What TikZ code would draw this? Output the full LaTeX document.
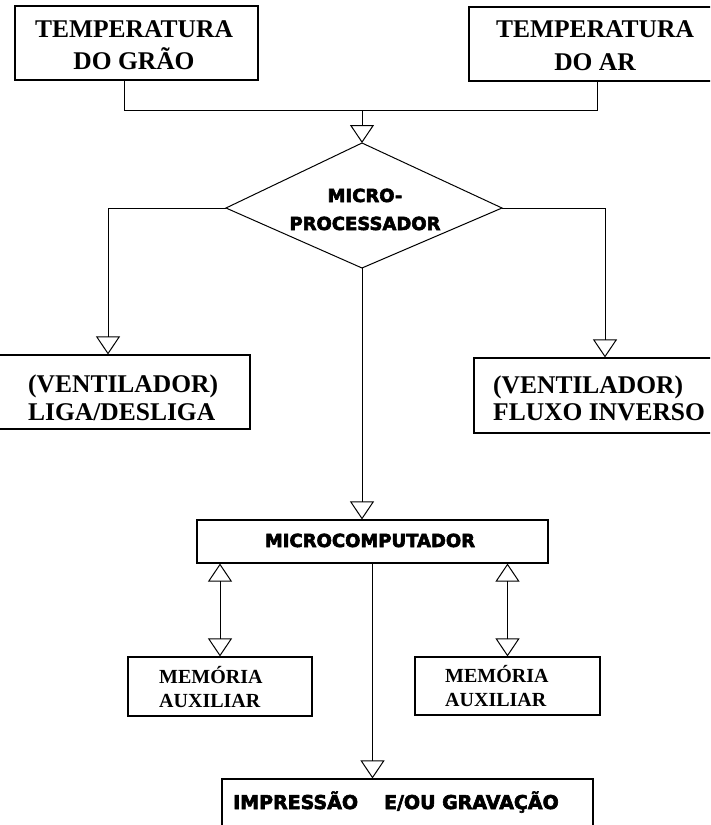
\documentclass[tikz,border=0pt]{standalone}
\usepackage{fontspec}
\setmainfont{Liberation Serif}
\newfontfamily\hvyfont[BoldFeatures={FakeBold=3.2}]{DejaVu Sans}
\usetikzlibrary{arrows.meta}
\begin{document}
\begin{tikzpicture}[x=1pt,y=-1pt,
  box/.style={draw, line width=1.1pt, inner sep=0pt},
  sertxt/.style={font=\fontsize{25.5}{#1}\selectfont\bfseries, inner sep=0pt},
  memtxt/.style={font=\fontsize{20}{24}\selectfont\bfseries, inner sep=0pt},
  hvytxt/.style={font=\hvyfont\fontsize{18}{28}\selectfont\bfseries, inner sep=0pt},
  conn/.style={line width=1pt},
  tri/.tip={Triangle[open, length=18pt, width=24pt, line width=1pt]},
  arr/.style={conn, -tri},
  darr/.style={conn, tri-tri}]
\useasboundingbox (0,0) rectangle (710,825);
\clip (0,0) rectangle (710,825);

% boxes
\node[box, minimum width=243pt, minimum height=74pt] (t1) at (136.5,43) {};
\node[sertxt=32, align=center, anchor=base] (t1t) at (134,69) {TEMPERATURA\\DO GRÃO};
\node[box, minimum width=251pt, minimum height=74pt] (t2) at (594.5,44) {};
\node[sertxt=33, align=center, anchor=base] (t2t) at (595,70) {TEMPERATURA\\DO AR};

\node[box, minimum width=255pt, minimum height=74pt] (vl) at (122.5,392) {};
\node[sertxt=28, align=left, anchor=base west] (vlt) at (28,420) {(VENTILADOR)\\LIGA/DESLIGA};
\node[box, minimum width=246pt, minimum height=75pt] (vr) at (597,395.5) {};
\node[sertxt=27, align=left, anchor=base west] (vrt) at (493,420) {(VENTILADOR)\\FLUXO INVERSO};

\node[box, minimum width=351pt, minimum height=43pt] (mc) at (372.5,541.5) {};
\node[hvytxt, anchor=base] (mct) at (370,547) {MICROCOMPUTADOR};

\node[box, minimum width=184pt, minimum height=59pt] (m1) at (220,686.5) {};
\node[memtxt, align=left, anchor=base west] (m1t) at (159,707) {MEMÓRIA\\AUXILIAR};
\node[box, minimum width=185pt, minimum height=58pt] (m2) at (507.5,686) {};
\node[memtxt, align=left, anchor=base west] (m2t) at (445,706) {MEMÓRIA\\AUXILIAR};

\node[box, minimum width=371pt, minimum height=61pt] (imp) at (407.5,809.5) {};
\node[hvytxt, font=\hvyfont\fontsize{19}{28}\selectfont\bfseries, anchor=base west] (impt) at (233,809) {IMPRESSÃO\hspace{26pt}E/OU GRAVAÇÃO};

% diamond
\coordinate (mpN) at (362,143);
\coordinate (mpE) at (502,208);
\coordinate (mpS) at (362,268);
\coordinate (mpW) at (226,208);
\draw[conn] (mpN) -- (mpE) -- (mpS) -- (mpW) -- cycle;
\node[hvytxt, align=center, anchor=base] (mp) at (365,230) {MICRO-\\PROCESSADOR};

% connectors
\coordinate (j1) at (124,110);
\coordinate (j2) at (597,110);
\coordinate (jc) at (362,110);
\draw[conn] (j1 |- t1.south) -- (j1) -- (j2) -- (j2 |- t2.south);
\draw[arr] (jc) -- (mpN);

\coordinate (lA) at (108,208);
\coordinate (rA) at (605,208);
\draw[arr] (mpW) -- (lA) -- (lA |- vl.north);
\draw[arr] (mpE) -- (rA) -- (rA |- vr.north);
\draw[arr] (mpS) -- (mpS |- mc.north);

\draw[darr] (m1.north |- mc.south) -- (m1.north);
\draw[darr] (m2.north |- mc.south) -- (m2.north);
\draw[arr] (mc.south) -- (mc.south |- imp.north);
\end{tikzpicture}
\end{document}
